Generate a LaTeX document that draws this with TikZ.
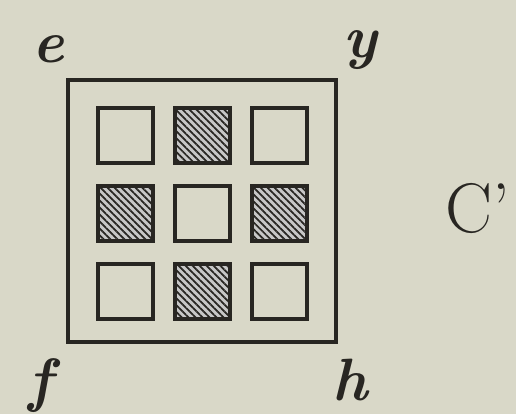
\documentclass[tikz,border=0pt]{standalone}
\usetikzlibrary{patterns.meta}
\definecolor{paper}{RGB}{217,216,200}
\definecolor{ink}{RGB}{40,38,34}

\begin{document}
\begin{tikzpicture}[
  x=0.02cm, y=-0.02cm,
  frame/.style={rectangle, draw=ink, line width=2pt, minimum width=5.36cm, minimum height=5.24cm, inner sep=0pt},
  cell/.style={rectangle, draw=ink, line width=1.9pt, minimum size=1.1cm, inner sep=0pt},
  hatched/.style={cell, preaction={fill=black!22}, pattern={Lines[angle=-45, distance=2.8pt, line width=1pt]}, pattern color=ink},
  corner/.style={anchor=base, inner sep=0pt, text=ink, font=\fontsize{34}{36}\selectfont\bfseries\itshape},
]

% === Paper and bounding box ===
\fill[paper] (0,0) rectangle (516,414);
\useasboundingbox (0,0) rectangle (516,414);

% === Outer frame ===
\node[frame] (frame) at (202,211) {};

% === 3x3 cells ===
\node[cell]    (c11) at (125.5,135.5) {};
\node[hatched] (c12) at (202.5,135.5) {};
\node[cell]    (c13) at (279.5,135.5) {};
\node[hatched] (c21) at (125.5,213.5) {};
\node[cell]    (c22) at (202.5,213.5) {};
\node[hatched] (c23) at (279.5,213.5) {};
\node[cell]    (c31) at (125.5,291.5) {};
\node[hatched] (c32) at (202.5,291.5) {};
\node[cell]    (c33) at (279.5,291.5) {};

% === Corner letters ===
\node[corner] (e) at (48,62) {e};
\node[corner] (y) at (360,57) {y};
\node[corner] (f) at (40,400) {f};
\node[corner] (h) at (350,400) {h};

% === Side label ===
\node[anchor=base west, inner sep=0pt, text=ink, font=\fontsize{40}{44}\selectfont] (label) at (445,232) {C'};

\end{tikzpicture}
\end{document}
